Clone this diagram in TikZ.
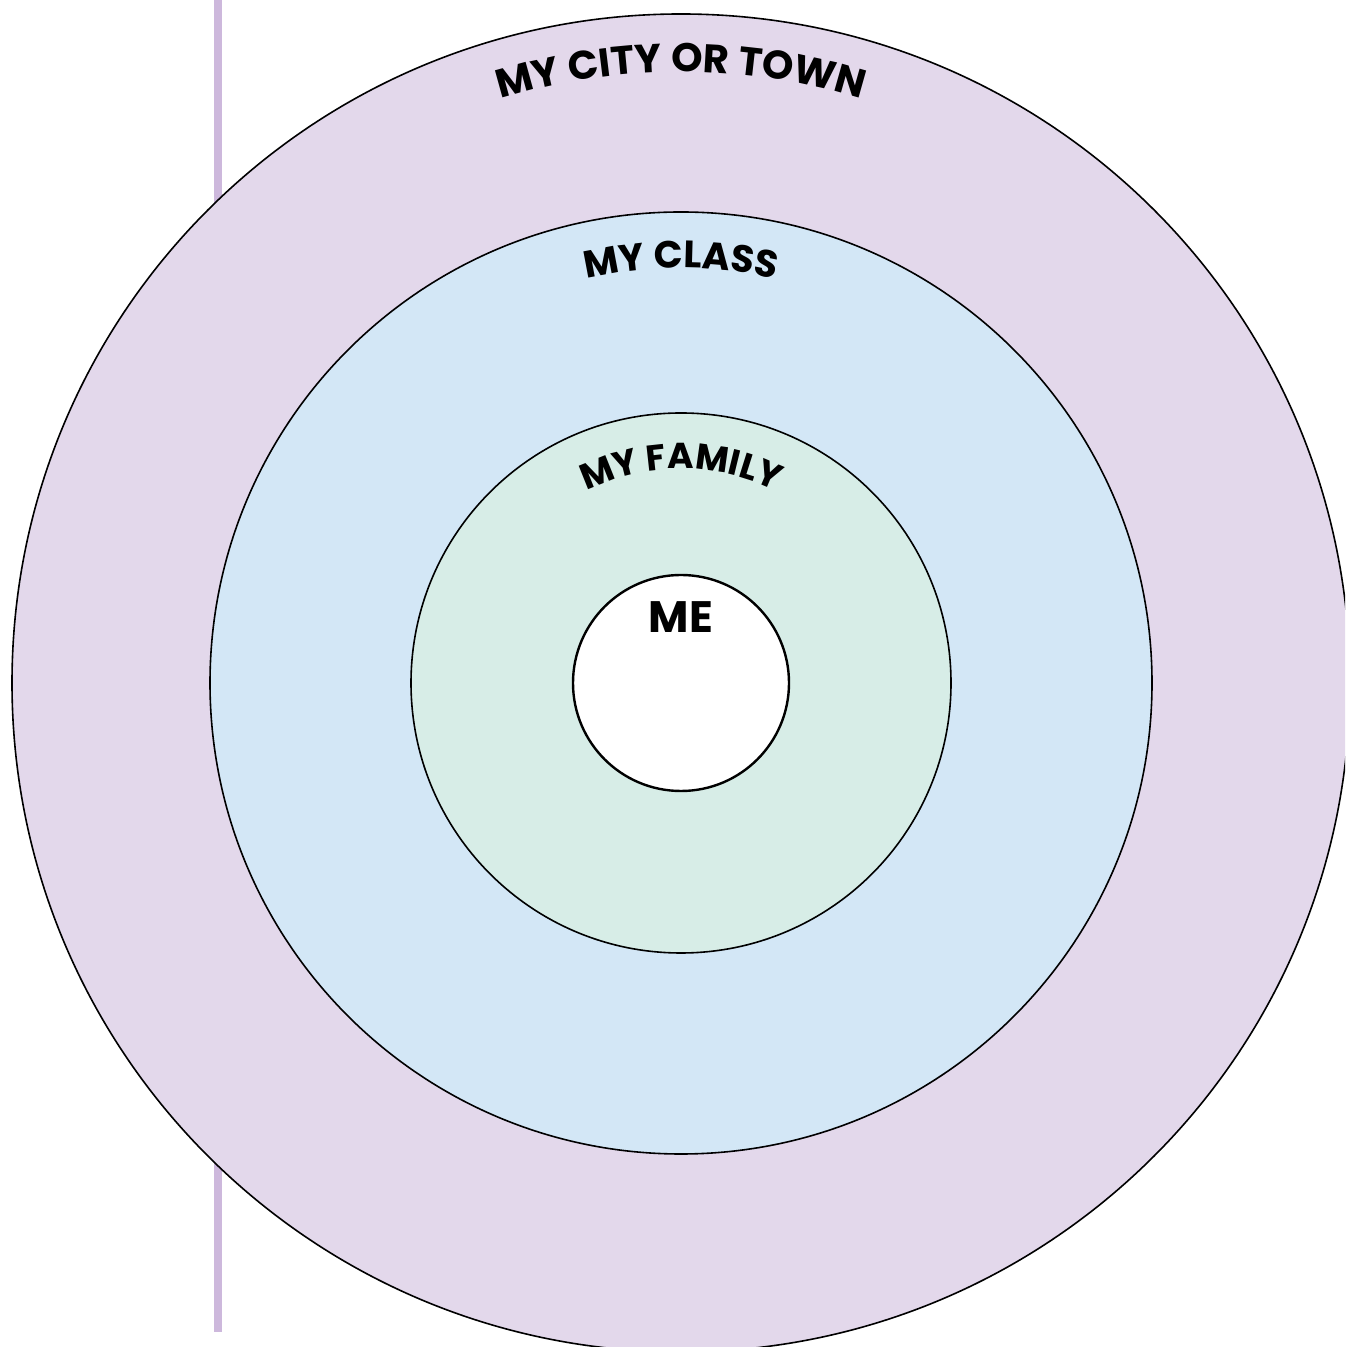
\documentclass[tikz,border=0pt]{standalone}
\usepackage{fontspec}
\setmainfont{Poppins}
\usetikzlibrary{decorations.text}
\definecolor{citycol}{RGB}{227,216,235}
\definecolor{classcol}{RGB}{211,231,246}
\definecolor{familycol}{RGB}{215,237,231}
\definecolor{barcol}{RGB}{205,184,220}
\begin{document}
\begin{tikzpicture}[x=1pt,y=1pt,
  ring/.style={circle,draw=black,line width=1.6pt,inner sep=0pt},
  arclabel/.style={decorate,decoration={text along path,text align=center,text={#1}}}]
\useasboundingbox (0,0) rectangle (1345,1347);
\clip (0,0) rectangle (1345,1347);
\coordinate (c) at (681,664);
\fill[barcol] (214,15) rectangle (222,1347);
\node[ring,fill=citycol,minimum size=1338pt] (city) at (c) {};
\node[ring,fill=classcol,minimum size=942pt] (class) at (c) {};
\node[ring,fill=familycol,minimum size=540pt] (family) at (c) {};
\node[ring,fill=white,minimum size=216pt,line width=2.4pt] (me) at (c) {};
\node[font=\fontsize{44}{44}\selectfont\bfseries,anchor=base,inner sep=0pt] (melabel) at (681,714) {ME};
\path[arclabel={|\fontsize{40}{40}\selectfont\bfseries|MY CITY OR TOWN}]
  ([shift={(125:611)}]c) arc[start angle=125,end angle=55,radius=611];
\path[arclabel={|\fontsize{38}{38}\selectfont\bfseries|MY CLASS}]
  ([shift={(125:415)}]c) arc[start angle=125,end angle=55,radius=415];
\path[arclabel={|\fontsize{36}{36}\selectfont\bfseries|MY FAMILY}]
  ([shift={(140:214)}]c) arc[start angle=140,end angle=40,radius=214];
\end{tikzpicture}
\end{document}
